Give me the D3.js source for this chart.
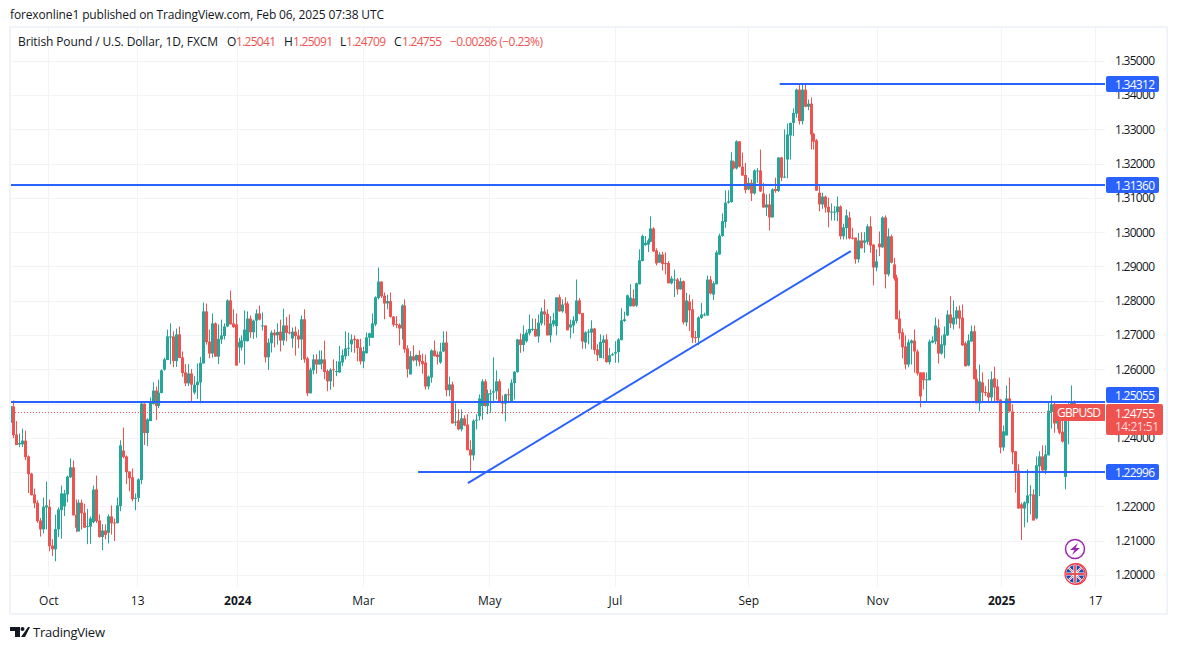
<!DOCTYPE html>
<html>
<head>
<meta charset="utf-8">
<script src="https://cdn.jsdelivr.net/npm/d3@7"></script>
<style>
  html, body { margin: 0; padding: 0; background: #fff; }
  text { font-family: "Open Sans", "Noto Sans", sans-serif; fill: #131722; }
  .domain { display: none; }
</style>
</head>
<body>
<script>
// all candle values are pips above 1.20000 (434 = 1.2434)
var opens = [444,492,410,381,381,392,346,296,235,211,
159,133,197,199,86,75,133,189,200,235,
285,314,176,127,211,182,141,141,154,250,
159,111,130,123,171,153,151,201,363,346,
302,285,223,225,277,500,414,449,499,538,
493,531,599,627,695,696,624,702,635,591,
559,588,532,554,562,617,769,681,646,734,
637,687,697,725,801,734,731,664,664,682,
682,748,708,742,763,726,728,635,676,707,
699,710,684,728,708,690,710,699,687,746,
632,530,597,629,614,617,629,595,565,600,
592,591,620,638,661,673,689,687,664,623,
647,692,692,731,808,856,815,792,799,754,
732,730,719,786,661,585,638,626,642,624,
620,550,576,655,643,620,652,678,539,556,
444,451,425,457,439,366,349,450,463,493,
565,493,528,532,536,565,508,500,527,506,
560,592,687,671,682,705,716,718,696,734,
769,762,699,731,726,810,769,792,792,722,
728,741,801,764,678,707,707,719,658,633,
677,687,621,641,646,650,685,741,757,784,
807,786,848,916,962,964,972,1011,947,911,
935,910,910,851,860,862,833,857,737,798,
775,694,692,750,757,757,862,818,848,935,
989,1030,1086,1088,1206,1186,1265,1191,1167,1125,
1144,1113,1178,1180,1113,1072,1081,1043,1126,1120,
1218,1160,1212,1282,1319,1346,1416,1324,1416,1366,
1375,1287,1268,1115,1081,1104,1074,1058,1058,1058,
1075,988,1012,1043,984,984,921,976,969,972,
1017,964,897,967,956,1043,877,988,906,868,
748,708,667,614,676,684,652,591,591,568,
568,678,681,722,646,670,699,760,731,748,
772,751,676,611,681,711,573,501,562,534,
532,518,574,550,512,372,407,515,477,361,
305,206,194,209,232,235,165,317,346,305,
349,476,493,442,473,418,286,450,493,504.1];

var highs = [512,509,449,413,427,421,349,298,252,218,
166,226,273,220,104,176,197,261,248,290,
340,334,220,220,220,208,193,171,261,290,
177,148,148,177,203,165,226,393,430,349,
302,311,238,282,506,500,457,518,562,550,
570,600,634,716,734,711,719,725,652,615,
615,601,580,617,636,795,792,716,763,737,
731,745,734,804,830,775,763,692,699,772,
769,757,745,775,786,766,728,690,713,716,
734,745,777,753,760,722,725,716,757,775,
637,605,643,644,655,655,684,600,603,629,
624,668,658,711,707,702,699,689,689,666,
707,707,763,813,897,856,824,818,824,755,
755,734,790,804,670,653,670,643,655,646,
643,582,658,684,652,677,711,711,579,564,
501,483,483,466,469,393,454,469,527,571,
571,541,541,635,597,571,524,529,544,571,
595,689,705,728,716,760,748,748,760,780,
804,775,755,765,810,818,804,810,798,745,
755,862,808,764,711,717,743,721,673,702,
699,702,663,648,682,691,778,768,818,848,
833,853,950,993,989,982,1046,1014,953,942,
943,941,916,872,891,867,867,859,823,818,
804,712,755,794,765,874,872,857,947,996,
1055,1122,1122,1233,1209,1268,1265,1232,1202,1159,
1154,1183,1187,1241,1144,1110,1113,1128,1159,1218,
1220,1300,1317,1319,1361,1419,1434,1434,1431,1387,
1393,1290,1272,1139,1115,1107,1100,1084,1076,1104,
1078,1025,1066,1060,1013,984,998,1000,1000,1023,
1046,964,950,1002,1046,1049,1011,993,925,876,
772,719,699,687,687,716,658,591,591,591,
687,696,751,746,699,725,772,813,801,783,
786,789,681,702,728,728,600,614,591,551,
571,594,608,571,512,436,553,576,498,361,
323,211,215,308,262,250,346,361,378,378,
506,524,503,493,498,464,464,501,553,509.1];

var lows = [434,399,379,373,373,335,239,232,195,152,
112,121,133,69,55,40,111,106,172,212,
283,174,125,127,132,138,90,91,151,152,
109,73,104,92,118,99,151,186,340,265,
244,215,189,213,265,379,376,449,497,452,
487,530,596,627,614,606,607,633,578,551,
551,504,527,514,501,617,672,632,634,636,
615,674,687,723,731,721,611,619,655,614,
681,692,689,692,743,713,620,598,649,664,
672,652,670,681,702,663,640,661,627,619,
522,530,585,587,614,600,571,536,540,549,
580,590,609,629,639,650,648,623,614,603,
646,668,692,726,804,808,746,775,751,724,
720,670,687,648,576,585,623,609,609,587,
541,541,561,638,614,616,650,521,521,442,
435,422,419,434,364,299,334,425,451,453,
491,469,473,503,512,505,470,448,506,506,
512,590,648,652,678,699,711,695,678,728,
728,699,678,724,699,768,765,763,714,690,
705,734,760,660,660,673,658,644,624,633,
631,619,614,639,619,619,685,738,755,783,
783,782,848,915,961,942,971,942,903,911,
888,877,851,848,811,818,833,731,726,712,
677,677,670,747,755,757,818,802,848,934,
987,1013,1083,1086,1183,1183,1189,1165,1113,1122,
1091,1110,1144,1117,1072,1047,1005,1043,1115,1117,
1149,1158,1157,1212,1280,1334,1314,1314,1364,1356,
1241,1241,1121,1061,1068,1057,1014,1034,1034,1032,
979,979,979,979,979,908,911,953,940,964,
940,845,886,930,954,836,871,909,859,746,
687,632,600,606,614,590,582,489,541,506,
568,676,673,617,643,632,697,720,716,731,
719,668,608,609,681,571,501,477,506,522,
506,506,506,506,355,362,407,475,323,240,
193,102,139,153,177,159,162,230,303,294,
349,427,415,425,410,386,250,381,493,470.9];

var closes = [493,408,379,385,392,344,294,233,209,157,
133,199,203,84,75,134,191,238,238,287,
314,174,138,211,180,138,143,165,249,157,
111,130,117,171,151,151,203,378,344,300,
282,221,225,279,500,414,454,507,538,493,
532,597,629,696,696,624,702,633,589,559,
588,555,555,564,619,769,679,646,734,637,
689,699,725,801,731,723,611,679,684,716,
748,708,742,763,745,728,635,678,707,699,
709,684,728,706,706,710,697,687,746,629,
530,599,629,614,629,629,592,565,599,598,
595,623,641,661,663,687,685,662,623,653,
693,705,734,810,856,813,792,799,753,730,
730,719,786,658,600,638,626,642,622,615,
550,579,655,638,636,652,678,539,556,442,
447,425,457,436,364,349,450,453,515,565,
493,530,530,536,565,506,500,527,525,561,
593,687,671,702,707,718,718,696,736,769,
760,699,734,743,810,769,789,789,714,731,
743,801,762,681,708,710,719,656,641,680,
687,621,641,644,650,687,743,746,816,809,
784,851,918,989,969,976,1011,944,909,935,
907,907,851,865,862,833,857,737,801,772,
692,691,751,760,760,862,821,851,941,990,
1032,1086,1090,1209,1186,1265,1191,1165,1123,1144,
1113,1180,1180,1119,1072,1081,1043,1125,1120,1218,
1159,1162,1285,1319,1348,1416,1324,1416,1366,1375,
1285,1264,1121,1081,1104,1072,1058,1060,1060,1075,
988,1014,1049,982,981,921,976,953,976,1017,
961,897,915,956,1043,877,988,911,865,746,
705,664,614,679,684,652,588,521,568,571,
681,684,728,646,673,702,760,734,751,772,
748,670,609,684,711,571,501,565,532,532,
518,571,547,509,372,419,515,477,358,302,
194,194,212,232,235,159,320,346,305,352,
479,498,442,473,415,389,450,497,507,475.5];

var priceTicks = [1.20,1.21,1.22,1.23,1.24,1.25,1.26,1.27,1.28,1.29,1.30,1.31,1.32,1.33,1.34,1.35];
var hiddenLabelTicks = [1.25]; // sits under the blue and red tags
var timeLabels = ["Oct","13","2024","Mar","May","Jul","Sep","Nov","2025","17"];
var timeIndex = [12.8,42.8,76.6,119,161.6,204,249,292.5,334.3,366];
var levelPrices = [1.34312,1.31360,1.25055,1.22996];
var levelStarts = [259.6,-1,-1,137.6];
var levelTexts = ["1.34312","1.31360","1.25055","1.22996"];
var levelTagOffset = [0,0,-7,0];
var trendIndex = [154.4,283.6];
var trendPrice = [1.2268,1.2945];
var lastPrice = 1.24755;

var W = 1177, H = 650;
var left = 11, right = 1105, bottomAxis = 587;
var UP = "#26a69a", DOWN = "#ef5350", BLUE = "#2962ff", GRID = "#f1f3f6";

var svg = d3.select("body").append("svg").attr("width", W).attr("height", H).style("display", "block");

var x = d3.scaleLinear().domain([0, 359]).range([10.3, 1074.3]);
var y = d3.scaleLinear().domain([1.20, 1.35]).range([575, 60.8]);
function px(p) { return 1.2 + p * 0.0001; }

svg.append("text").text("forexonline1 published on TradingView.com, Feb 06, 2025 07:38 UTC")
   .attr("x", 10).attr("y", 19).attr("font-size", 12).attr("textLength", 374);

// frame
svg.append("rect").attr("x", 10).attr("y", 27).attr("width", 1157).attr("height", 587)
   .attr("fill", "none").attr("stroke", "#f0f3fa").attr("stroke-width", 2);

// grid
svg.append("g").selectAll("line").data(priceTicks).enter().append("line")
   .attr("x1", left).attr("x2", right)
   .attr("y1", function(d) { return Math.round(y(d)) + 0.5; })
   .attr("y2", function(d) { return Math.round(y(d)) + 0.5; })
   .attr("stroke", GRID);
svg.append("g").selectAll("line").data(timeIndex).enter().append("line")
   .attr("y1", 28).attr("y2", bottomAxis)
   .attr("x1", function(d) { return Math.round(x(d)) + 0.5; })
   .attr("x2", function(d) { return Math.round(x(d)) + 0.5; })
   .attr("stroke", GRID);

// axes
var yAxis = d3.axisRight(y)
   .tickValues(priceTicks.filter(function(d) { return hiddenLabelTicks.indexOf(d) < 0; }))
   .tickSize(0).tickPadding(0)
   .tickFormat(d3.format(".5f"));
svg.append("g").attr("transform", "translate(1155,0)").call(yAxis)
   .selectAll("text").attr("text-anchor", "end").attr("font-size", 12)
   .attr("font-family", "'Open Sans'").attr("fill", "#131722").attr("textLength", 40);

var xAxis = d3.axisBottom(x).tickValues(timeIndex).tickSize(0).tickPadding(0)
   .tickFormat(function(d, i) { return timeLabels[i]; });
svg.append("g").attr("transform", "translate(0,596)").call(xAxis)
   .selectAll("text").attr("font-size", 12).attr("fill", "#131722")
   .attr("font-family", "'Open Sans'")
   .attr("font-weight", function(d, i) { return timeLabels[i].length == 4 ? 700 : 400; });

svg.append("clipPath").attr("id", "plot").append("rect")
   .attr("x", left).attr("y", 28).attr("width", right - left).attr("height", bottomAxis - 28);
var plot = svg.append("g").attr("clip-path", "url(#plot)");

// candles
var idx = d3.range(closes.length);
function col(i) { return closes[i] >= opens[i] ? UP : DOWN; }
function cx(i) { return Math.round(x(i)); }

plot.append("g").selectAll("line").data(idx).enter().append("line")
   .attr("x1", function(i) { return cx(i) + 0.5; })
   .attr("x2", function(i) { return cx(i) + 0.5; })
   .attr("y1", function(i) { return y(px(highs[i])); })
   .attr("y2", function(i) { return y(px(lows[i])); })
   .attr("stroke", col);
plot.append("g").selectAll("rect").data(idx).enter().append("rect")
   .attr("x", function(i) { return cx(i) - 1; })
   .attr("width", 3)
   .attr("y", function(i) { return y(px(Math.max(opens[i], closes[i]))); })
   .attr("height", function(i) { return Math.max(1, Math.abs(y(px(opens[i])) - y(px(closes[i])))); })
   .attr("fill", col);

// last price dotted line
plot.append("line").attr("x1", 15).attr("x2", right)
   .attr("y1", Math.round(y(lastPrice)) + 0.5).attr("y2", Math.round(y(lastPrice)) + 0.5)
   .attr("stroke", DOWN).attr("stroke-dasharray", "1 2");

// drawn levels and trend line
plot.append("g").selectAll("line").data(levelPrices).enter().append("line")
   .attr("x1", function(d, i) { return x(levelStarts[i]); })
   .attr("x2", right)
   .attr("y1", function(d) { return Math.round(y(d) - 0.2); })
   .attr("y2", function(d) { return Math.round(y(d) - 0.2); })
   .attr("stroke", BLUE).attr("stroke-width", 2);
plot.append("line")
   .attr("x1", x(trendIndex[0])).attr("y1", y(trendPrice[0]))
   .attr("x2", x(trendIndex[1])).attr("y2", y(trendPrice[1]))
   .attr("stroke", BLUE).attr("stroke-width", 2);

// price tags
var tags = svg.append("g").selectAll("g").data(levelPrices).enter().append("g")
   .attr("transform", function(d, i) { return "translate(1106," + (Math.round(y(d) - 0.2) + levelTagOffset[i]) + ")"; });
tags.append("rect").attr("y", -8).attr("width", 53).attr("height", 16).attr("rx", 2).attr("fill", BLUE);
tags.append("text").text(function(d, i) { return levelTexts[i]; })
   .attr("x", 9).attr("y", 4.5).attr("font-size", 12).attr("textLength", 40).style("fill", "#fff");

svg.append("rect").attr("x", 1053).attr("y", 404).attr("width", 52).attr("height", 17).attr("fill", DOWN);
svg.append("text").text("GBPUSD").attr("x", 1057).attr("y", 417).attr("font-size", 12)
   .attr("textLength", 44).style("fill", "#fff");
svg.append("rect").attr("x", 1106).attr("y", 404).attr("width", 57).attr("height", 31).attr("rx", 2).attr("fill", DOWN);
svg.append("text").text("1.24755").attr("x", 1115).attr("y", 417.5).attr("font-size", 12)
   .attr("textLength", 40).style("fill", "#fff");
svg.append("text").text("14:21:51").attr("x", 1115).attr("y", 431).attr("font-size", 12)
   .attr("textLength", 44).style("fill", "#ffd9d8");

// legend
var legend = [["British Pound / U.S. Dollar, 1D, FXCM", 18, "#131722", 200],
  ["O", 227, "#131722", 9], ["1.25041", 236, DOWN, 40],
  ["H", 284, "#131722", 9], ["1.25091", 293, DOWN, 40],
  ["L", 340, "#131722", 6], ["1.24709", 346, DOWN, 40],
  ["C", 394, "#131722", 8], ["1.24755", 402, DOWN, 40],
  ["\u22120.00286 (\u22120.23%)", 450, DOWN, 93]];
svg.append("g").selectAll("text").data(legend).enter().append("text")
   .text(function(d) { return d[0]; })
   .attr("x", function(d) { return d[1]; }).attr("y", 46).attr("font-size", 12)
   .attr("textLength", function(d) { return d[3]; })
   .style("fill", function(d) { return d[2]; });

// bolt badge
svg.append("circle").attr("cx", 1075).attr("cy", 549).attr("r", 9.5)
   .attr("fill", "#fff").attr("stroke", "#9c27b0").attr("stroke-width", 1.5);
svg.append("path").attr("d", "M1078 543 L1070 550 L1074.5 550 L1072 555 L1080 548 L1075.5 548 Z").attr("fill", "#9c27b0");

// flag badge
svg.append("clipPath").attr("id", "flag").append("circle").attr("cx", 1075).attr("cy", 574).attr("r", 9);
svg.append("circle").attr("cx", 1076).attr("cy", 574).attr("r", 10.5).attr("fill", "#fff").attr("stroke", "#f23645").attr("stroke-width", 1.2);
svg.append("circle").attr("cx", 1075).attr("cy", 574).attr("r", 10).attr("fill", "#fff").attr("stroke", "#f23645").attr("stroke-width", 1.2);
var flag = svg.append("g").attr("clip-path", "url(#flag)");
flag.append("rect").attr("x", 1066).attr("y", 565).attr("width", 18).attr("height", 18).attr("fill", "#1f4aa8");
flag.append("path").attr("d", "M1066 565 L1084 583 M1084 565 L1066 583").attr("stroke", "#fff").attr("stroke-width", 2);
flag.append("path").attr("d", "M1066 565 L1084 583 M1084 565 L1066 583").attr("stroke", "#e8505b").attr("stroke-width", 0.8);
flag.append("path").attr("d", "M1075 565 V583 M1066 574 H1084").attr("stroke", "#fff").attr("stroke-width", 3.2);
flag.append("path").attr("d", "M1075 565 V583 M1066 574 H1084").attr("stroke", "#e8505b").attr("stroke-width", 1.8);

// footer logo
svg.append("path").attr("d", "M10 627 H20 V637 H15 V631 H10 Z M28 627 H30 L25 637 H21 Z").attr("fill", "#131722");
svg.append("circle").attr("cx", 22.5).attr("cy", 629).attr("r", 2).attr("fill", "#131722");
svg.append("text").text("TradingView").attr("x", 33).attr("y", 637).attr("font-size", 13).attr("textLength", 72);
</script>
</body>
</html>
